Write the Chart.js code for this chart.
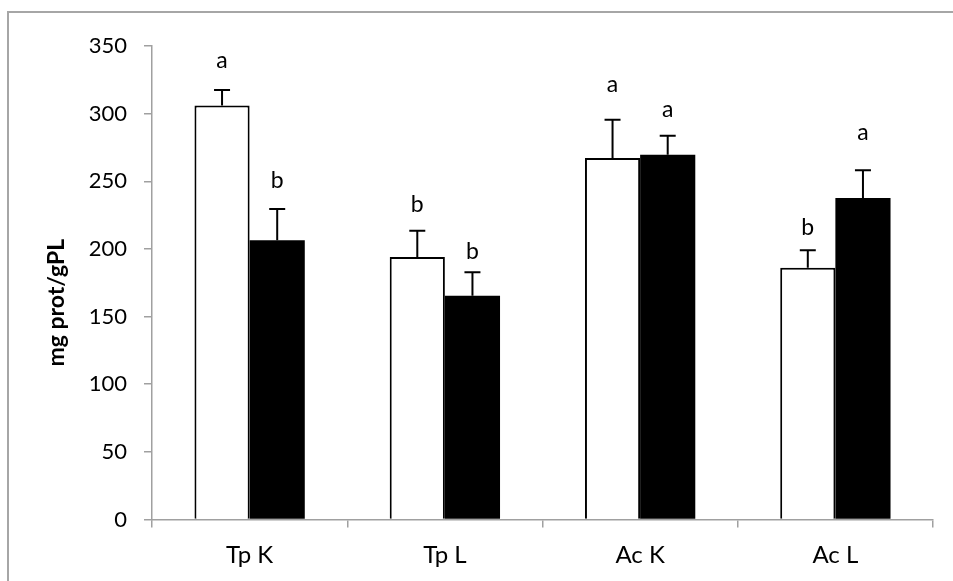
<!DOCTYPE html>
<html>
<head>
<meta charset="utf-8">
<script src="https://cdn.jsdelivr.net/npm/chart.js@4"></script>
<style>
  html, body { margin: 0; padding: 0; background: #fff; }
  #wrap { width: 953px; height: 581px; position: relative; }
</style>
</head>
<body>
<div id="wrap"><canvas id="c" width="953" height="581"></canvas></div>
<script>
// ---- data ----
const categories = ["Tp K", "Tp L", "Ac K", "Ac L"];
const whiteValues = [306, 194, 267.2, 186];
const blackValues = [206.5, 165.4, 269.6, 237.6];
const whiteErrors = [11.5, 19.5, 28.3, 13];
const blackErrors = [23, 17.3, 14, 20.5];
const whiteLetters = ["a", "b", "a", "b"];
const blackLetters = ["b", "b", "a", "a"];
const whiteLetterValues = [333.6, 227.6, 316, 210];
const blackLetterValues = [245.2, 192.6, 297.6, 280.3];
const yTicks = [0, 50, 100, 150, 200, 250, 300, 350];
const yTitle = "mg prot/gPL";

const FONT = "Lato, 'Open Sans', sans-serif";
const AXIS = "#a0a0a0";

const errorLetterPlugin = {
  id: "errLetters",
  afterDatasetsDraw(chart) {
    const ctx = chart.ctx;
    const y = chart.scales.y;
    const sets = [
      { errs: whiteErrors, vals: whiteValues, letters: whiteLetters, lv: whiteLetterValues },
      { errs: blackErrors, vals: blackValues, letters: blackLetters, lv: blackLetterValues }
    ];
    sets.forEach((s, di) => {
      const meta = chart.getDatasetMeta(di);
      meta.data.forEach((bar, i) => {
        const x = bar.x;
        const yTop = y.getPixelForValue(s.vals[i]);
        const yErr = y.getPixelForValue(s.vals[i] + s.errs[i]);
        ctx.save();
        ctx.strokeStyle = "#000";
        ctx.lineWidth = 2;
        ctx.beginPath();
        ctx.moveTo(x, yTop);
        ctx.lineTo(x, yErr);
        ctx.moveTo(x - 8, yErr);
        ctx.lineTo(x + 8, yErr);
        ctx.stroke();
        ctx.fillStyle = "#000";
        ctx.font = "23px " + FONT;
        ctx.textAlign = "center";
        ctx.textBaseline = "alphabetic";
        ctx.fillText(s.letters[i], x, y.getPixelForValue(s.lv[i]));
        ctx.restore();
      });
    });
  }
};

const framePlugin = {
  id: "frame",
  afterDraw(chart) {
    const ctx = chart.ctx;
    const a = chart.chartArea;
    ctx.save();
    ctx.strokeStyle = "#a6a6a6";
    ctx.lineWidth = 2;
    ctx.strokeRect(8, 12, 1200, 1200);
    // y axis title
    ctx.translate(57, (a.top + a.bottom) / 2 + 20);
    ctx.rotate(-Math.PI / 2);
    ctx.fillStyle = "#000";
    ctx.font = "bold 23px " + FONT;
    ctx.textAlign = "center";
    ctx.textBaseline = "middle";
    ctx.fillText(yTitle, 0, 0);
    ctx.restore();
  }
};

new Chart(document.getElementById("c"), {
  type: "bar",
  data: {
    labels: categories,
    datasets: [
      { data: whiteValues, backgroundColor: "#ffffff", borderColor: "#000000", borderWidth: 2, borderSkipped: "bottom" },
      { data: blackValues, backgroundColor: "#000000", borderColor: "#000000", borderWidth: 0 }
    ]
  },
  options: {
    responsive: false,
    animation: false,
    events: [],
    layout: { padding: { top: 46, right: 20, left: 0, bottom: 0 } },
    plugins: { legend: { display: false }, tooltip: { enabled: false } },
    datasets: { bar: { categoryPercentage: 0.565, barPercentage: 1.0 } },
    scales: {
      x: {
        afterFit(s) { s.height = 61.5; },
        grid: { display: true, drawOnChartArea: false, drawTicks: true, tickLength: 8, color: AXIS, lineWidth: 1.5, offset: true },
        border: { display: true, color: AXIS, width: 1.5 },
        ticks: { color: "#000", font: { family: FONT, size: 24 }, padding: 13 }
      },
      y: {
        min: 0, max: 350,
        afterFit(s) { s.width = 152; },
        afterBuildTicks(s) { s.ticks = yTicks.map(v => ({ value: v })); },
        grid: { display: true, drawOnChartArea: false, drawTicks: true, tickLength: 8, color: AXIS, lineWidth: 1.5 },
        border: { display: true, color: AXIS, width: 1.5 },
        ticks: { color: "#000", font: { family: FONT, size: 22 }, padding: 17 }
      }
    }
  },
  plugins: [errorLetterPlugin, framePlugin]
});
</script>
</body>
</html>
